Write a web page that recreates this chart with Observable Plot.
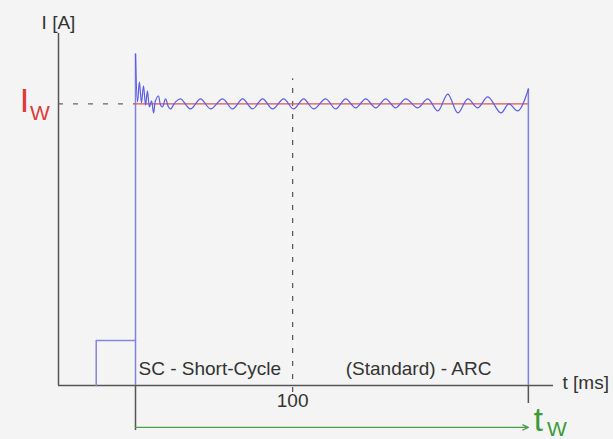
<!DOCTYPE html>
<html>
<head>
<meta charset="utf-8">
<script src="https://cdn.jsdelivr.net/npm/d3@7"></script>
<script src="https://cdn.jsdelivr.net/npm/@observablehq/plot@0.6"></script>
<style>
  html, body { margin: 0; padding: 0; background: #f4f4f4; }
  #chart { width: 613px; height: 439px; overflow: hidden; }
</style>
</head>
<body>
<div id="chart"></div>
<script>
// ---- data ----
const tStart = 0;      // ms, start of arc
const tEnd = 250;      // ms, t_w
const tTick = 100;     // ms
const Iw = 100;        // welding current (relative units)
const tMin = -49, tMax = 266;
const IMax = 125;

// short-cycle pre-pulse (step)
const preT = [-25, -25, 0];
const preI = [0, 16, 16];

// measured welding current (blue)
const curveT = [0, 1.3, 2.5, 3.8, 5.1, 6.4, 7.6, 8.9, 10.2, 11.5, 12.7, 14.6, 15.9, 17.2, 19.1, 21.0, 22.3, 25.5, 28.7, 35.0, 41.4, 47.8, 55.4, 61.8, 68.2, 74.5, 80.9, 87.3, 94.3, 100.6, 107.0, 113.4, 121.0, 127.4, 133.8, 140.1, 146.5, 152.9, 159.2, 165.6, 172.0, 179.6, 186.0, 192.4, 198.7, 205.1, 211.5, 217.8, 224.2, 232.5, 237.6, 243.3, 250];
const curveI = [117.7, 100.7, 107.8, 100.4, 106.4, 99.6, 104.6, 98.9, 101.1, 96.8, 101.1, 102.8, 99.6, 98.9, 101.8, 98.9, 98.2, 100.7, 101.8, 98.2, 101.8, 98.2, 101.8, 98.2, 101.8, 98.2, 101.8, 98.2, 101.8, 98.2, 101.8, 98.2, 101.8, 98.2, 101.8, 98.6, 101.8, 98.6, 101.8, 98.6, 101.8, 98.6, 101.8, 97.5, 103.5, 96.8, 101.8, 98.6, 102.5, 96.8, 100.0, 97.5, 105.3];

const labels = {
  yAxis: "I [A]",
  xAxis: "t [ms]",
  tick: "100",
  sc: "SC - Short-Cycle",
  arc: "(Standard) - ARC",
  iMain: "I", iSub: "W",
  tMain: "t", tSub: "W"
};
const arrowY = -14.9; // level of the t_w arrow below the axis

// ---- derived tables ----
const curve = curveT.map((t, i) => ({t, I: curveI[i]}));
const pre = preT.map((t, i) => ({t, I: preI[i]}));

const font = "Liberation Sans, Arial, sans-serif";
const gray = "#555";

const chart = Plot.plot({
  width: 613,
  height: 439,
  marginLeft: 58,
  marginRight: 60,
  marginTop: 33,
  marginBottom: 54,
  x: {domain: [tMin, tMax], axis: null},
  y: {domain: [0, IMax], axis: null},
  style: {background: "transparent", fontFamily: font, overflow: "visible"},
  marks: [
    // dashed guides
    Plot.ruleY([Iw], {x1: tMin, x2: tStart, stroke: "#666", strokeWidth: 1.3, strokeDasharray: "5,10"}),
    Plot.ruleX([tTick], {y1: -2.5, y2: 108.9, stroke: "#555", strokeWidth: 1.2, strokeDasharray: "5,8"}),
    // axes
    Plot.ruleX([tMin], {y1: 0, y2: IMax, stroke: gray, strokeWidth: 1.5}),
    Plot.ruleY([0], {x1: tMin, x2: tMax, stroke: gray, strokeWidth: 1.5}),
    Plot.ruleX([tStart], {y1: 0, y2: -16, stroke: gray, strokeWidth: 1.5}),
    Plot.ruleX([tEnd], {y1: 0, y2: -6.4, stroke: gray, strokeWidth: 1.5}),
    // pre-pulse
    Plot.line(pre, {x: "t", y: "I", stroke: "#8686dc", strokeWidth: 1.5}),
    // vertical flanks of the weld current
    Plot.ruleX([tStart], {y1: 0, y2: curveI[0], stroke: "#7f7fe2", strokeWidth: 1.5}),
    Plot.ruleX([tEnd], {y1: 0, y2: curveI[curveI.length - 1], stroke: "#7f7fe2", strokeWidth: 1.5}),
    // nominal current
    Plot.ruleY([Iw], {x1: tStart, x2: tEnd, stroke: "#e05555", strokeWidth: 1.3}),
    // measured current
    Plot.line(curve, {x: "t", y: "I", stroke: "#5c5ce6", strokeWidth: 1.2, curve: "catmull-rom"}),
    // t_w arrow
    Plot.arrow([{x1: tStart, x2: tEnd, y: arrowY}], {x1: "x1", x2: "x2", y1: "y", y2: "y", stroke: "#4aa04a", strokeWidth: 1.3, headLength: 7, headAngle: 50, insetStart: 0, insetEnd: 0}),
    // texts
    Plot.text([labels.yAxis], {x: tMin, y: IMax, dy: -11, text: d => d, fill: "#333", fontSize: 19, textAnchor: "middle"}),
    Plot.text([labels.xAxis], {x: tMax, y: 0, dx: 9, dy: -3, text: d => d, fill: "#333", fontSize: 19, textAnchor: "start"}),
    Plot.text([labels.tick], {x: tTick, y: 0, dy: 15, text: d => d, fill: "#333", fontSize: 19, textAnchor: "middle"}),
    Plot.text([labels.sc], {x: tStart, y: 6, dx: 3, text: d => d, fill: "#333", fontSize: 19, textAnchor: "start"}),
    Plot.text([labels.arc], {x: 133.8, y: 6, text: d => d, fill: "#333", fontSize: 19, textAnchor: "start"}),
    Plot.text([labels.iMain], {x: tMin, y: Iw, dx: -34, dy: -3, text: d => d, fill: "#e03a3a", fontSize: 34, textAnchor: "middle"}),
    Plot.text([labels.iSub], {x: tMin, y: Iw, dx: -18.5, dy: 9, text: d => d, fill: "#e03a3a", fontSize: 21, textAnchor: "middle"}),
    Plot.text([labels.tMain], {x: tEnd, y: arrowY, dx: 10, dy: -7, text: d => d, fill: "#3c9a3c", fontSize: 33, textAnchor: "middle"}),
    Plot.text([labels.tSub], {x: tEnd, y: arrowY, dx: 28.5, dy: 1.5, text: d => d, fill: "#3c9a3c", fontSize: 21, textAnchor: "middle"})
  ]
});
document.getElementById("chart").appendChild(chart);
</script>
</body>
</html>
